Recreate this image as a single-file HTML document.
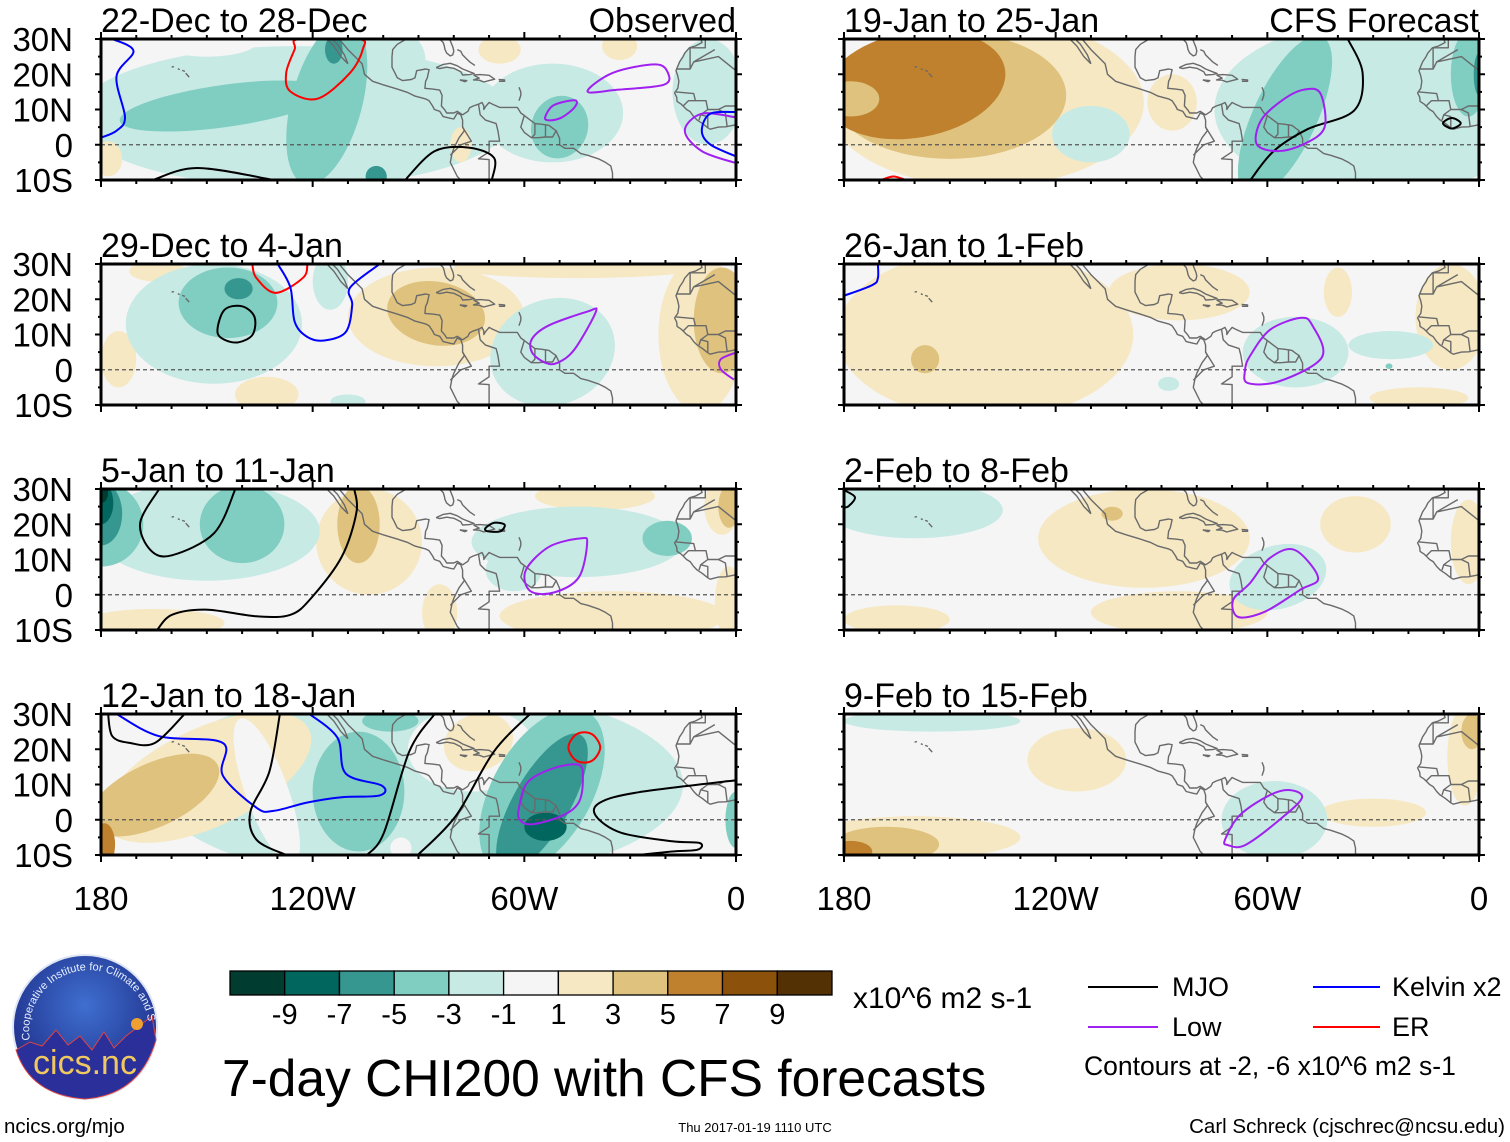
<!DOCTYPE html>
<html><head><meta charset="utf-8"><title>7-day CHI200 with CFS forecasts</title>
<style>
html,body{margin:0;padding:0;background:#fff;}
svg{display:block;font-family:"Liberation Sans",Arial,sans-serif;}
</style></head>
<body>
<svg id="chart" width="1510" height="1142" viewBox="0 0 1510 1142" xmlns="http://www.w3.org/2000/svg">
<defs>
<radialGradient id="logoGrad" cx="50%" cy="35%" r="60%">
<stop offset="0" stop-color="#3f6fd0"/><stop offset="1" stop-color="#1f2f8a"/>
</radialGradient>
<path id="logoArc" d="M 30 1040 A 56 56 0 1 1 148 1020"/>
</defs>
<g id="panels"></g>

<g id="colorbar"></g>
<text x="853" y="1008" font-size="30">x10^6 m2 s-1</text>

<text x="222" y="1096" font-size="51.5">7-day CHI200 with CFS forecasts</text>

<g>
<g><line x1="1088" y1="987" x2="1158" y2="987" stroke="#000" stroke-width="2"/><text x="1172" y="996" font-size="27">MJO</text></g>
<g><line x1="1088" y1="1027" x2="1158" y2="1027" stroke="#a020f0" stroke-width="2"/><text x="1172" y="1036" font-size="27">Low</text></g>
<g><line x1="1313" y1="987" x2="1380" y2="987" stroke="#0000ff" stroke-width="2"/><text x="1392" y="996" font-size="27">Kelvin x2</text></g>
<g><line x1="1313" y1="1027" x2="1380" y2="1027" stroke="#ff0000" stroke-width="2"/><text x="1392" y="1036" font-size="27">ER</text></g>
<text x="1084" y="1075" font-size="26.5">Contours at -2, -6 x10^6 m2 s-1</text>
</g>

<text x="4" y="1133" font-size="20.5">ncics.org/mjo</text>
<text x="755" y="1132" font-size="13" text-anchor="middle">Thu 2017-01-19 1110 UTC</text>
<text x="1505" y="1133" font-size="20.5" text-anchor="end">Carl Schreck (cjschrec@ncsu.edu)</text>

<g>
<circle cx="85" cy="1027" r="72" fill="url(#logoGrad)" stroke="#dfe6f5" stroke-width="2"/>
<path d="M 16 1050 L 30 1042 L 42 1046 L 56 1030 L 68 1045 L 80 1036 L 92 1050 L 104 1032 L 114 1048 L 126 1036 L 152 1016 L 156 1040 Q 140 1095 85 1099 Q 30 1095 16 1050 Z" fill="#2a2f9a" stroke="#d44" stroke-width="1"/>
<circle cx="137" cy="1024" r="6" fill="#f0a030"/>
<text font-size="11" fill="#e8f0ff"><textPath href="#logoArc">Cooperative Institute for Climate and Satellites</textPath></text>
<text x="85" y="1074" font-size="34" text-anchor="middle" fill="#f0c860">cics.nc</text>
</g>
</svg>

<script>
const levelColors = {"-5":"#003c30","-4":"#01665e","-3":"#35978f","-2":"#80cdc1","-1":"#c7eae5","0":"#f5f5f5","1":"#f6e8c3","2":"#dfc27d","3":"#bf812d","4":"#8c510a","5":"#543005"};
const colorbarLabels = ["-9","-7","-5","-3","-1","1","3","5","7","9"];
const colorbarLevels = [-5,-4,-3,-2,-1,0,1,2,3,4,5];
const lonTicks = [180,120,60,0];
const lonTickLabels = ["180","120W","60W","0"];
const latTicks = [30,20,10,0,-10];
const latTickLabels = ["30N","20N","10N","0","10S"];
const panelTitles = ["22-Dec to 28-Dec","29-Dec to 4-Jan","5-Jan to 11-Jan","12-Jan to 18-Jan","19-Jan to 25-Jan","26-Jan to 1-Feb","2-Feb to 8-Feb","9-Feb to 15-Feb"];

// fill anomaly blobs: [lonW, lat, rxDeg, ryDeg, rotDeg, level]
const p1Fills = [[125,8,62,20,0,-1],[100,24,12,10,0,-1],[52,9,20,14,0,-1],[8,15,10,15,0,-1],[150,29,14,4,0,0],
 [145,11,30,6,-8,-2],[116,12,10,24,15,-2],[50,5,8,9,20,-2],[114,27,2.5,4,0,-3],[102,-9,3,3,0,-3],
 [78,0,3,5,0,1],[67,27,6,4,0,1],[33,28,5,4,0,1],[178,-4,4,5,0,1]];
const p2Fills = [[85,15,25,14,0,1],[175,3,5,8,0,1],[164,28,8,3,0,1],[133,-7,9,5,0,1],[45,29,35,3,0,1],[10,10,12,22,0,1],
 [85,16,14,9,10,2],[4,14,8,15,0,2],
 [148,13,25,17,0,-1],[115,25,5,8,0,-1],[110,-9,5,2,0,-1],[52,5,18,15,-20,-1],
 [144,19,14,10,0,-2],[141,23,4,3,0,-3]];
const p3Fills = [[104,15,15,15,0,1],[84,-5,5,8,0,1],[35,-6,32,7,0,1],[40,28,17,4,0,1],[165,-8,20,4,0,1],[4,25,5,8,0,1],[2,-2,4,10,0,1],
 [107,20,6,11,0,2],[2,25,3,6,0,2],
 [150,18,32,14,0,-1],[45,15,30,10,0,-1],[63,7,8,6,0,-1],
 [180,20,12,12,0,-2],[140,20,12,11,0,-2],[19.5,16,7,5,0,-2],
 [180,23,6,9,0,-3],[180,26,3.5,6,0,-4],[180,29,2,3,0,-5]];
const p4Fills = [[90,10,75,28,0,-1],
 [150,12,32,14,-25,1],[165,7,20,9,-25,2],[179,-7,3,6,0,3],
 [133,8,6,22,-20,0],[75,20,18,12,0,0],[95,-8,3,3,0,0],[11,5,3,3,0,0],
 [73,22,10,8,-20,1],
 [107,8,13,17,0,-2],[55,8,14,26,30,-2],[98,28,8,3,0,-2],[0,0,3,8,0,-2],
 [55,5,8,22,30,-3],[54,-2,6,4,0,-4]];
const r1Fills = [[30,10,45,25,0,-1],[85,27,16,5,0,0],
 [140,12,45,24,0,1],[150,14,33,18,0,2],[160,17,26,15,-10,3],[178,13,8,5,0,2],[87,12,7,8,0,1],
 [110,3,11,8,0,-1],[55,8,9,25,25,-2],[3,20,5,12,0,-2],[0,20,1.5,6,0,-3]];
const r2Fills = [[140,10,42,24,0,1],[85,22,20,8,0,1],[8,15,10,15,0,1],[40,22,4,7,0,1],[17,-8,14,3,0,1],
 [157,3,4,4,0,2],
 [52,5,15,10,0,-1],[25,7,12,4,0,-1],[88,-4,3,2,0,-1],[25.5,1,1,0.8,0,-2]];
const r3Fills = [[95,16,30,14,0,1],[85,-5,25,6,0,1],[35,20,10,8,0,1],[3,15,5,12,0,1],[165,-7,15,4,0,1],
 [104,23,3,2,0,2],
 [160,24,25,8,0,-1],[57,5,14,9,-15,-1]];
const r4Fills = [[114,17,14,9,0,1],[160,-5,30,6,0,1],[30,2,15,4,0,1],[4,18,5,14,0,1],
 [168,-7,15,5,0,2],[2,25,3,5,0,2],[178,-9,6,3,0,3],
 [155,28,25,3,0,-1],[58,0,15,11,0,-1]];

const p1Lines = [
 {c:"kelvin",closed:false,pts:[[176.8,30],[170.8,26.6],[175.6,19.4],[173.2,7.8],[175.6,4],[180,2]]},
 {c:"er",closed:true,pts:[[123.9,30],[107,30],[105.8,27.1],[109.4,20.4],[118.5,13.1],[126.3,15.1],[127.5,20.4],[125.1,27.1]]},
 {c:"mjo",closed:false,pts:[[165.3,-10],[152.7,-6.6],[131,-10]]},
 {c:"mjo",closed:false,pts:[[93.8,-10],[85.4,-1.8],[75.8,-0.8],[68.6,-3.7],[69.2,-10]]},
 {c:"low",closed:true,pts:[[42.1,15.1],[34.9,20.4],[22.9,22.8],[19.3,20.4],[20.5,17],[33.7,15.6]]},
 {c:"low",closed:true,pts:[[54.1,7.8],[51.7,11.2],[45.7,12.6],[45.7,10.7],[49.3,7.8],[52.9,6.9]]},
 {c:"low",closed:false,pts:[[0,7.8],[9.7,8.8],[14.5,4],[9.7,-1.8],[0,-5.2]]},
 {c:"kelvin",closed:false,pts:[[0,9.3],[7.3,8.8],[9.7,4],[7.3,0.1],[0,-3.3]]}];
const p2Lines = [
 {c:"mjo",closed:true,pts:[[147,11],[145,17],[140,18],[136.5,15],[137,10],[141,7.8],[145,8.5]]},
 {c:"er",closed:false,pts:[[137.1,30],[136,26.1],[130.5,21.8],[122.7,26.1],[121.5,30]]},
 {c:"kelvin",closed:false,pts:[[129.9,30],[126.3,23.3],[125.1,13.6],[121.5,9.3],[116.7,8.3],[110.6,10.7],[108.8,18.4],[109.4,23.3],[101,30]]},
 {c:"low",closed:true,pts:[[57.8,4.9],[54.1,2],[50.5,2],[45.7,5.9],[39.7,16.5],[42.1,16.5],[53,12.6],[57.8,8.8]]},
 {c:"low",closed:false,pts:[[0,4.9],[4.3,3],[4.3,0.1],[0.6,-2.8]]}];
const p3Lines = [
 {c:"mjo",closed:false,pts:[[163.5,30],[168.9,20.4],[165.9,12.6],[159.9,11.2],[147.9,17.5],[141.9,30]]},
 {c:"mjo",closed:false,pts:[[108.2,30],[107.6,23.3],[111.8,10.7],[120.3,-0.8],[126.3,-5.7],[135.9,-6.1],[150.3,-4.2],[159.9,-5.7],[164.1,-10]]},
 {c:"mjo",closed:true,pts:[[71,18.9],[68.6,20.4],[65.6,19.9],[66.8,18],[70.4,18]]},
 {c:"low",closed:true,pts:[[59.6,6.9],[53,13.6],[44,16],[42.2,14.6],[44.6,4.9],[51.8,0.6],[58.4,1.1]]}];
const p4Lines = [
 {c:"kelvin",closed:false,pts:[[175.6,30],[163.5,23.7],[145.5,21.8],[145.5,12.6],[135.9,3.4],[131.1,2.5],[121.5,4.9],[111.8,6.4],[101,6.9],[100.4,9.7],[110.6,13.1],[113,23.3],[120.9,30]]},
 {c:"mjo",closed:false,pts:[[178,30],[176.8,23.7],[171.9,21.8],[164.7,21.8],[156.3,30]]},
 {c:"mjo",closed:false,pts:[[129.3,30],[132.3,13.6],[137.7,2],[135.9,-5.7],[127.5,-10]]},
 {c:"mjo",closed:false,pts:[[85.4,30],[92.6,19.4],[99.8,-3.7],[104.6,-10]]},
 {c:"mjo",closed:false,pts:[[58.4,30],[68.6,19.4],[79.4,1.1],[90.2,-10]]},
 {c:"mjo",closed:false,pts:[[0,11.2],[27.7,7.8],[38.5,4.9],[39.7,1.1],[32.5,-3.7],[18.1,-6.1],[10.3,-6.6],[10.9,-8.5],[18.1,-9],[27.7,-10]]},
 {c:"er",closed:true,pts:[[47.5,20.5],[45.8,23.8],[43,24.8],[40.2,23.8],[38.5,20.5],[40.2,17.2],[43,16.2],[45.8,17.2]]},
 {c:"low",closed:true,pts:[[61.4,4],[59,10.7],[51.8,14.6],[44.6,15.6],[43.4,11.7],[44.6,4.9],[49.4,1.1],[57.8,-1.3],[61.4,0.1]]}];
const r1Lines = [
 {c:"mjo",closed:false,pts:[[37.2,30],[33,20.4],[35.4,9.7],[48.6,4.4],[58.2,-1.8],[64.8,-10]]},
 {c:"mjo",closed:true,pts:[[10.2,6.1],[7.7,7.6],[5.2,6.1],[7.7,4.6]]},
 {c:"low",closed:true,pts:[[63,0.1],[61.8,6.9],[55.8,12.6],[49.8,15.6],[45,14.6],[43.8,4.9],[49.8,0.1],[57,-1.8]]},
 {c:"er",closed:false,pts:[[169.5,-10],[166,-9],[162.5,-10]]}];
const r2Lines = [
 {c:"kelvin",closed:false,pts:[[180,21],[172,24],[170.4,26],[170.4,30]]},
 {c:"low",closed:true,pts:[[64.9,3.9],[59.3,11.3],[50.7,14.7],[47.3,12.7],[44.5,3.6],[56.4,-3.2],[65.5,-3.8],[66.3,0]]}];
const r3Lines = [
 {c:"mjo",closed:false,pts:[[180,29.7],[176.9,27.7],[178.6,25.2],[180,24.7]]},
 {c:"low",closed:true,pts:[[69.7,-1.5],[64.9,3.3],[59.3,10.4],[52.2,12.7],[45.6,4.8],[50.7,1.4],[60.7,-4.8],[68.3,-6.3]]}];
const r4Lines = [
 {c:"low",closed:true,pts:[[72,-5.7],[67.8,1.3],[59.3,7],[53.6,8.4],[50.2,6.2],[56.4,0.1],[66.3,-7.2],[71.2,-7.2]]}];

const coastLines = [
 [[116,30],[114,28],[112,25],[110,23]],
 [[110,23],[111,25.5],[113,28.5],[114.5,30]],
 [[112.5,30],[110,27],[108,25],[106,23],[105.3,20],[103,18],[100,17],[96,15.8],[93,14.8],[91,13.8],[88,13],[87,12.5],[86,11],[85.5,10],[84,9.5],[83,8],[81,7.5],[80,7.3],[79,9],[78,8.5],[77.5,7],[77.5,5],[77,4],[78.5,2],[79,1],[80,-1],[80.5,-2.5],[81,-5],[80,-7],[79,-9],[78,-10]],
 [[94,29.7],[96,28.5],[97.3,27],[97.5,25],[97.5,22],[97,21],[96,19],[94.5,18.2],[92,18.5],[91,19],[90.5,21],[88,21.5],[87,21.3],[87.5,19],[88,18],[88.2,16],[86,15.8],[84,15.5],[83.3,14],[83.5,11],[82.5,9.8],[82,9],[80,9],[79,9.5],[77.5,8.5],[76,9.5],[75.5,10.5],[74.5,11],[73,11.5],[72,12],[71.5,11],[71.5,10],[71,10.8],[70,12],[69,11.5],[67,10.6],[64,10.6],[62,10.6],[61,9],[60,8.3],[59,7.5],[57,6],[55,5.8],[53,5.5],[52,4.7],[51,4],[50,1.8],[50,0],[48.5,-1],[46,-1],[44,-2.5],[42,-3],[39,-4],[37,-5],[35.5,-6],[35,-8],[35,-10]],
 [[85.5,30],[84,30],[83,29],[82.7,28],[82.5,27],[82,26],[81,25.2],[80.3,25.5],[80,26.5],[80.2,27.5],[80.6,28.5],[81,29.5],[81.3,30]],
 [[85,21.9],[83,22.8],[81,23.1],[79,22.4],[77.5,21.5],[75.5,20.7],[74.2,20.2],[75.5,19.9],[77.5,19.8],[78,20.7],[80,21.7],[82,22],[84,21.6],[85,21.9]],
 [[74.4,19.8],[72.5,19.9],[70,19.7],[68.4,18.6],[70,18.2],[71.5,17.8],[72.8,18.3],[74.4,18.4],[72.8,18.9],[74.4,19.8]],
 [[67.3,18.5],[65.6,18.4],[65.6,18],[67.2,18]],
 [[78.3,18.4],[76.3,18.2],[76.8,17.9],[78.3,18.4]],
 [[79,27],[78,26.5],[77.5,25.5],[76.5,24.5],[75.5,23.5],[74,22.5]],
 [[61.5,16.3],[61,15],[61,14],[61.5,12.5]],
 [[160,22],[159.3,22.2]],[[158.2,21.6],[157.7,21.3]],[[157,21.1],[156.2,20.8]],[[156,20.3],[155,19.2]],
 [[10,30],[9.6,29],[11.5,28],[13.2,27.5],[14.5,26],[15,25],[16,23.5],[17,21],[16.5,19.5],[16.2,18],[16.5,16],[17.4,14.7],[16.8,13.5],[16.7,12.3],[15.5,11.5],[15,11],[14,10],[13,9.4],[12,8],[11,7],[9.5,6],[8,4.8],[7.3,4.4],[5,5],[3,5.1],[1,5.5],[0,5.7]],
 [[8.7,30],[8.7,27.5],[13,27.5]],[[13,27.5],[13,21.5],[17,21.5]],[[13,21.5],[12,23.5],[5,25],[0,21]],[[12,23.5],[6,27]],
 [[17,15],[12,14.5],[11.5,12.5],[13.5,12.5],[15,11]],[[11.5,12.5],[8.5,12.5],[8,10],[10,8.5],[10.5,7]],[[8,10],[5,10],[3,11],[0,11]],[[5,10],[3,9],[2.5,5]],[[8,4.8],[8,8],[10,8.5]],
 [[60,8.3],[61,5],[60,3.5],[58,2],[56,2],[54,2.2],[52,2.2],[51,4]],[[57,6],[57,3],[58,2]],[[54,5.8],[54,2.2]],
 [[73,11.5],[72.5,8.5],[71,7],[68,6],[67.5,4],[67,1],[70,1],[70,-2],[73,-4],[70,-4.2],[70,-10]],[[77.5,5],[75,1],[78,0]],[[78,0],[81,-3]]];

const COLS = [101, 844];
const ROWS = [39, 264, 489, 714];
const PW = 635, PH = 141;
const panels = [
 {col:0,row:0,fills:p1Fills,lines:p1Lines,tag:"Observed"},
 {col:0,row:1,fills:p2Fills,lines:p2Lines},
 {col:0,row:2,fills:p3Fills,lines:p3Lines},
 {col:0,row:3,fills:p4Fills,lines:p4Lines},
 {col:1,row:0,fills:r1Fills,lines:r1Lines,tag:"CFS Forecast"},
 {col:1,row:1,fills:r2Fills,lines:r2Lines},
 {col:1,row:2,fills:r3Fills,lines:r3Lines},
 {col:1,row:3,fills:r4Fills,lines:r4Lines}];
const lineColors = {mjo:"#000000",kelvin:"#0000ff",low:"#a020f0",er:"#ff0000"};

const NS = "http://www.w3.org/2000/svg";
function mk(tag, attrs, parent){const e=document.createElementNS(NS,tag);for(const k in attrs)e.setAttribute(k,attrs[k]);if(parent)parent.appendChild(e);return e;}
function xScale(x0, lonW){return x0 + (180 - lonW) / 180 * PW;}
function yScale(y0, lat){return y0 + (30 - lat) / 40 * PH;}
function smoothPath(p, closed){
 const n=p.length; if(n<2) return "";
 let d="M"+p[0][0].toFixed(1)+" "+p[0][1].toFixed(1);
 const get=i=>closed?p[(i+n)%n]:p[Math.max(0,Math.min(n-1,i))];
 const segs=closed?n:n-1;
 for(let i=0;i<segs;i++){
  const p0=get(i-1),p1=get(i),p2=get(i+1),p3=get(i+2);
  const c1=[p1[0]+(p2[0]-p0[0])/6,p1[1]+(p2[1]-p0[1])/6];
  const c2=[p2[0]-(p3[0]-p1[0])/6,p2[1]-(p3[1]-p1[1])/6];
  d+=" C"+c1[0].toFixed(1)+" "+c1[1].toFixed(1)+" "+c2[0].toFixed(1)+" "+c2[1].toFixed(1)+" "+p2[0].toFixed(1)+" "+p2[1].toFixed(1);
 }
 return closed?d+" Z":d;
}

const root = document.getElementById("panels");
const defs = document.querySelector("defs");
panels.forEach((pn, idx) => {
 const x0 = COLS[pn.col], y0 = ROWS[pn.row];
 const g = mk("g", {}, root);
 
 
 const cp = mk("clipPath", {id:"clip"+idx}, defs);
 mk("rect", {x:x0, y:y0, width:PW, height:PH}, cp);
 const inner = mk("g", {"clip-path":"url(#clip"+idx+")"}, g);
 const bg = mk("rect", {x:x0, y:y0, width:PW, height:PH, fill:levelColors["0"]}, inner);
 
 
 pn.fills.forEach(f => {
  const cx = xScale(x0, f[0]), cy = yScale(y0, f[1]);
  const rx = f[2] * PW / 180, ry = f[3] * PH / 40;
  const el = mk("ellipse", {cx:cx.toFixed(1), cy:cy.toFixed(1), rx:rx.toFixed(1), ry:ry.toFixed(1), fill:levelColors[String(f[5])], transform:"rotate("+f[4]+" "+cx.toFixed(1)+" "+cy.toFixed(1)+")"}, inner);
  
  
 });
 coastLines.forEach(cl => {
  const d = cl.map((q,i)=>(i?"L":"M")+xScale(x0,q[0]).toFixed(1)+" "+yScale(y0,q[1]).toFixed(1)).join(" ");
  const el = mk("path", {d:d, fill:"none", stroke:"#6a6a6a", "stroke-width":1.4, "stroke-linejoin":"round"}, inner);
  
  
 });
 const eq = mk("line", {x1:x0, x2:x0+PW, y1:yScale(y0,0), y2:yScale(y0,0), stroke:"#555", "stroke-width":1.3, "stroke-dasharray":"4 3"}, inner);
 
 
 pn.lines.forEach(ln => {
  const pts = ln.pts.map(q=>[xScale(x0,q[0]), yScale(y0,q[1])]);
  const el = mk("path", {d:smoothPath(pts, ln.closed), fill:"none", stroke:lineColors[ln.c], "stroke-width":2}, inner);
  
  
 });
 const fr = mk("rect", {x:x0, y:y0, width:PW, height:PH, fill:"none", stroke:"#000", "stroke-width":3}, g);
 
 
 for (let lon = 0; lon <= 180; lon += 10) {
  const x = xScale(x0, lon), major = lon % 60 === 0, L = major ? 7 : 4;
  mk("line", {x1:x, x2:x, y1:y0+PH, y2:y0+PH+L, stroke:"#000", "stroke-width":2}, g);
  mk("line", {x1:x, x2:x, y1:y0, y2:y0-L, stroke:"#000", "stroke-width":2}, g);
 }
 for (let lat = -10; lat <= 30; lat += 5) {
  const y = yScale(y0, lat), major = lat % 10 === 0, L = major ? 6 : 3;
  mk("line", {x1:x0-L, x2:x0, y1:y, y2:y, stroke:"#000", "stroke-width":2}, g);
  mk("line", {x1:x0+PW, x2:x0+PW+L, y1:y, y2:y, stroke:"#000", "stroke-width":2}, g);
 }
 const t = mk("text", {x:x0, y:y0-7, "font-size":34}, g);
 t.textContent = panelTitles[idx];
 
 
 if (pn.tag) {
  const t2 = mk("text", {x:x0+PW, y:y0-7, "font-size":34, "text-anchor":"end"}, g);
  t2.textContent = pn.tag;
  
  
 }
 if (pn.col === 0) {
  latTicks.forEach((lat, i) => {
   const tl = mk("text", {x:73, y:yScale(y0,lat)+12, "font-size":33, "text-anchor":"end"}, g);
   tl.textContent = latTickLabels[i];
   
   
  });
 }
 if (pn.row === 3) {
  lonTicks.forEach((lon, i) => {
   const tl = mk("text", {x:xScale(x0,lon), y:910, "font-size":33, "text-anchor":"middle"}, g);
   tl.textContent = lonTickLabels[i];
   
   
  });
 }
});

const cb = document.getElementById("colorbar");
const cbX = 230, cbY = 971, cbW = 602, cbH = 24, bw = cbW / colorbarLevels.length;
colorbarLevels.forEach((lv, i) => {
 const r = mk("rect", {x:(cbX+i*bw).toFixed(1), y:cbY, width:bw.toFixed(1), height:cbH, fill:levelColors[String(lv)], stroke:"#000", "stroke-width":1.3}, cb);
 
 
});
colorbarLabels.forEach((lb, i) => {
 const t = mk("text", {x:(cbX+(i+1)*bw).toFixed(1), y:1024, "font-size":29, "text-anchor":"middle"}, cb);
 t.textContent = lb;
 
 
});
</script>
</body></html>
